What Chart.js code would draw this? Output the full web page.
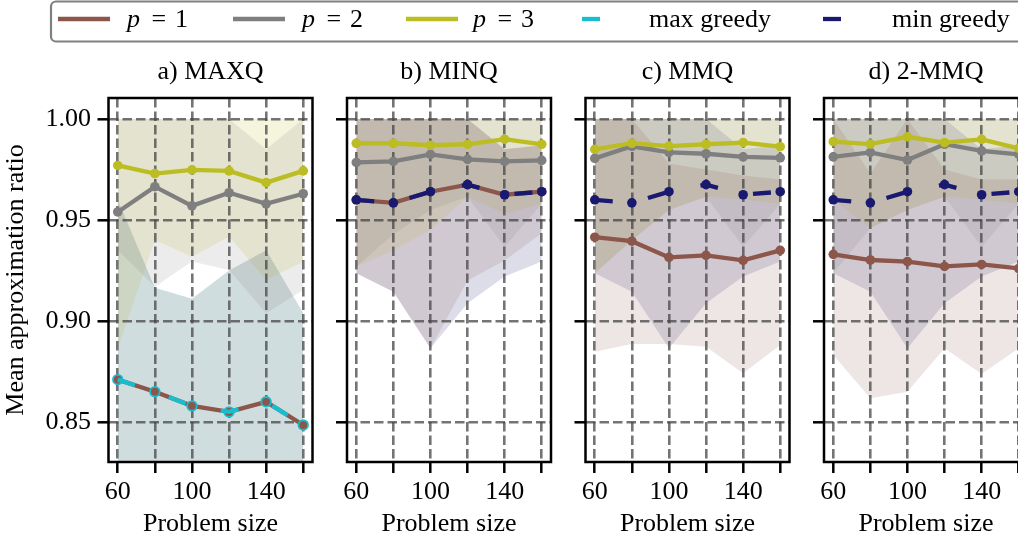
<!DOCTYPE html>
<html>
<head>
<meta charset="utf-8">
<script src="https://cdn.jsdelivr.net/npm/chart.js@4.4.1/dist/chart.umd.min.js"></script>
<style>
  html, body { margin: 0; padding: 0; background: #fff; overflow: hidden; }
  #wrap { position: relative; width: 1018px; height: 543px; overflow: hidden; }
  #wrap canvas { position: absolute; left: 0; top: 0; }
</style>
</head>
<body>
<div id="wrap">
  <canvas id="panel0" width="1040" height="543"></canvas>
  <canvas id="panel1" width="1040" height="543"></canvas>
  <canvas id="panel2" width="1040" height="543"></canvas>
  <canvas id="panel3" width="1040" height="543"></canvas>
</div>
<script>
// problem sizes on the x axis
const sizes = [60, 80, 100, 120, 140, 160];
const sizeLabels = [60, 100, 140];
const yTicks = [0.85, 0.90, 0.95, 1.00];
const panelTitles = ['a) MAXQ', 'b) MINQ', 'c) MMQ', 'd) 2-MMQ'];

// a) MAXQ : mean ratio and min/max band per depth p
const maxqP1 = [0.871, 0.865, 0.858, 0.855, 0.860, 0.8485];
const maxqP1Hi = [0.960, 0.9165, 0.911, 0.925, 0.935, 0.904];
const maxqP1Lo = [0.79, 0.80, 0.79, 0.80, 0.79, 0.80];
const maxqP2 = [0.954, 0.9665, 0.957, 0.9635, 0.958, 0.963];
const maxqP2Hi = [1.0, 1.0, 1.0, 1.0, 0.985, 1.0];
const maxqP2Lo = [0.935, 0.917, 0.9294, 0.9252, 0.9038, 0.9153];
const maxqP3 = [0.977, 0.973, 0.9748, 0.9743, 0.9685, 0.9743];
const maxqP3Hi = [1.0, 1.0, 1.0, 1.0, 1.0, 1.0];
const maxqP3Lo = [0.8865, 0.940, 0.9318, 0.9417, 0.9203, 0.9294];
const maxGreedy = [0.871, 0.865, 0.858, 0.855, 0.860, 0.8485];
const maxGreedyHi = [0.960, 0.9165, 0.911, 0.925, 0.935, 0.904];
const maxGreedyLo = [0.79, 0.80, 0.79, 0.80, 0.79, 0.80];

// b) MINQ
const minqP1 = [0.960, 0.9585, 0.964, 0.9675, 0.9625, 0.964];
const minqP1Hi = [1.0, 1.0, 1.0, 1.0, 0.985, 0.987];
const minqP1Lo = [0.9236, 0.9145, 0.8865, 0.920, 0.930, 0.9434];
const minqP2 = [0.9785, 0.979, 0.9825, 0.980, 0.979, 0.9795];
const minqP2Hi = [1.0, 1.0, 1.0, 1.0, 1.0, 1.0];
const minqP2Lo = [0.927, 0.943, 0.955, 0.9615, 0.9368, 0.958];
const minqP3 = [0.988, 0.988, 0.987, 0.9875, 0.990, 0.9875];
const minqP3Hi = [1.0, 1.0, 1.0, 1.0, 1.0, 1.0];
const minqP3Lo = [0.927, 0.935, 0.945, 0.9615, 0.953, 0.958];

// greedy minimiser, shared by b), c) and d)
const minGreedy = [0.960, 0.9585, 0.964, 0.9675, 0.9625, 0.964];
const minGreedyHi = [1.0, 1.0, 1.0, 1.0, 0.985, 0.987];
const minGreedyLo = [0.9236, 0.9145, 0.8865, 0.9088, 0.922, 0.9294];

// c) MMQ
const mmqP1 = [0.9415, 0.9395, 0.9315, 0.9325, 0.930, 0.935];
const mmqP1Hi = [1.0, 1.0, 0.978, 0.975, 0.972, 0.970];
const mmqP1Lo = [0.8848, 0.8886, 0.8886, 0.8873, 0.8741, 0.8881];
const mmqP2 = [0.9805, 0.9865, 0.9835, 0.9828, 0.9813, 0.9808];
const mmqP2Hi = [1.0, 1.0, 1.0, 1.0, 1.0, 1.0];
const mmqP2Lo = [0.9236, 0.940, 0.955, 0.9615, 0.9368, 0.958];
const mmqP3 = [0.985, 0.988, 0.9866, 0.9875, 0.9883, 0.9863];
const mmqP3Hi = [1.0, 1.0, 1.0, 1.0, 1.0, 1.0];
const mmqP3Lo = [0.9236, 0.940, 0.955, 0.9615, 0.960, 0.958];

// d) 2-MMQ
const mmq2P1 = [0.933, 0.9302, 0.9294, 0.927, 0.928, 0.926];
const mmq2P1Hi = [1.0, 0.973, 1.0, 0.975, 0.970, 0.970];
const mmq2P1Lo = [0.8832, 0.8617, 0.865, 0.8865, 0.8738, 0.8865];
const mmq2P2 = [0.9813, 0.9835, 0.9797, 0.9875, 0.9842, 0.9825];
const mmq2P2Hi = [1.0, 1.0, 1.0, 1.0, 1.0, 1.0];
const mmq2P2Lo = [0.9236, 0.946, 0.955, 0.9615, 0.9368, 0.958];
const mmq2P3 = [0.9888, 0.9876, 0.9912, 0.9883, 0.9899, 0.9855];
const mmq2P3Hi = [1.0, 1.0, 1.0, 1.0, 1.0, 1.0];
const mmq2P3Lo = [0.960, 0.946, 0.955, 0.9615, 0.960, 0.958];

const BROWN = '#8c564b', GREY = '#7f7f7f', OLIVE = '#bcbd22', CYAN = '#17becf', NAVY = '#191970';
const GRID = 'rgba(70,70,70,0.75)';
const FAMILY = "'Liberation Serif', 'Times New Roman', serif";
const FONT = { family: FAMILY, size: 26 };

// geometry of the four axes boxes
const FRAME_LEFT = [108.5, 347, 585.5, 824];
const FRAME_W = 204;
const FRAME_TOP = 98, FRAME_BOTTOM = 462;
const CANVAS_W = 1040, CANVAS_H = 543;

const panels = [
  [
    { mean: maxqP1, hi: maxqP1Hi, lo: maxqP1Lo, color: BROWN, order: 4 },
    { mean: maxqP2, hi: maxqP2Hi, lo: maxqP2Lo, color: GREY, order: 3 },
    { mean: maxqP3, hi: maxqP3Hi, lo: maxqP3Lo, color: OLIVE, order: 2 },
    { mean: maxGreedy, hi: maxGreedyHi, lo: maxGreedyLo, color: CYAN, order: 1, greedy: true, ring: true }
  ],
  [
    { mean: minqP1, hi: minqP1Hi, lo: minqP1Lo, color: BROWN, order: 4 },
    { mean: minqP2, hi: minqP2Hi, lo: minqP2Lo, color: GREY, order: 3 },
    { mean: minqP3, hi: minqP3Hi, lo: minqP3Lo, color: OLIVE, order: 2 },
    { mean: minGreedy, hi: minGreedyHi, lo: minGreedyLo, color: NAVY, order: 1, greedy: true }
  ],
  [
    { mean: mmqP1, hi: mmqP1Hi, lo: mmqP1Lo, color: BROWN, order: 4 },
    { mean: mmqP2, hi: mmqP2Hi, lo: mmqP2Lo, color: GREY, order: 3 },
    { mean: mmqP3, hi: mmqP3Hi, lo: mmqP3Lo, color: OLIVE, order: 2 },
    { mean: minGreedy, hi: minGreedyHi, lo: minGreedyLo, color: NAVY, order: 1, greedy: true }
  ],
  [
    { mean: mmq2P1, hi: mmq2P1Hi, lo: mmq2P1Lo, color: BROWN, order: 4 },
    { mean: mmq2P2, hi: mmq2P2Hi, lo: mmq2P2Lo, color: GREY, order: 3 },
    { mean: mmq2P3, hi: mmq2P3Hi, lo: mmq2P3Lo, color: OLIVE, order: 2 },
    { mean: minGreedy, hi: minGreedyHi, lo: minGreedyLo, color: NAVY, order: 1, greedy: true }
  ]
];

function points(arr) {
  return sizes.map((x, i) => ({ x: x, y: arr[i] }));
}

function alpha(hex, a) {
  const n = parseInt(hex.slice(1), 16);
  return `rgba(${n >> 16},${(n >> 8) & 255},${n & 255},${a})`;
}

function buildDatasets(series) {
  const sets = [];
  // shaded min/max bands, upper edge filled down to the next dataset
  series.forEach(s => {
    sets.push({ data: points(s.hi), fill: '+1', backgroundColor: alpha(s.color, 0.15),
      borderWidth: 0, borderColor: 'rgba(0,0,0,0)', pointRadius: 0, order: 10 });
    sets.push({ data: points(s.lo), fill: false,
      borderWidth: 0, borderColor: 'rgba(0,0,0,0)', pointRadius: 0, order: 10 });
  });
  // mean lines with markers
  series.forEach(s => {
    sets.push({
      data: points(s.mean), fill: false, order: s.order,
      borderColor: s.color, borderWidth: 4.3,
      borderDash: s.greedy ? [18, 36] : [],
      pointRadius: 4.8,
      pointBackgroundColor: s.ring ? 'rgba(0,0,0,0)' : s.color,
      pointBorderColor: s.color,
      pointBorderWidth: s.ring ? 1.8 : 0
    });
  });
  return sets;
}

// frame around the axes box and the panel title
const framePlugin = {
  id: 'frame',
  afterDatasetsDraw(chart, args, opts) {
    const a = chart.chartArea, ctx = chart.ctx;
    ctx.save();
    ctx.strokeStyle = '#000';
    ctx.lineWidth = 2.5;
    ctx.strokeRect(a.left, a.top, a.right - a.left, a.bottom - a.top);
    ctx.fillStyle = '#000';
    ctx.font = `26px ${FAMILY}`;
    ctx.textAlign = 'center';
    ctx.textBaseline = 'middle';
    ctx.fillText(opts.title, (a.left + a.right) / 2, 72.5);
    ctx.restore();
  }
};

// figure legend along the top
const legendPlugin = {
  id: 'figLegend',
  afterDraw(chart, args, opts) {
    if (!opts.show) return;
    const ctx = chart.ctx;
    ctx.save();
    ctx.beginPath();
    ctx.roundRect(51, 1.5, 1000, 40, 5);
    ctx.fillStyle = '#fff';
    ctx.fill();
    ctx.lineWidth = 2.2;
    ctx.strokeStyle = '#808080';
    ctx.stroke();

    const items = [
      { color: BROWN, dash: [], x: 58, tx: 127, p: '1' },
      { color: GREY, dash: [], x: 233, tx: 302, p: '2' },
      { color: OLIVE, dash: [], x: 406, tx: 473, p: '3' },
      { color: CYAN, dash: [18, 36], x: 582, tx: 649, text: 'max greedy' },
      { color: NAVY, dash: [18, 36], x: 823, tx: 892, text: 'min greedy' }
    ];
    items.forEach(it => {
      ctx.beginPath();
      ctx.setLineDash(it.dash);
      ctx.lineWidth = 4.3;
      ctx.strokeStyle = it.color;
      ctx.moveTo(it.x, 19);
      ctx.lineTo(it.x + 52, 19);
      ctx.stroke();
      ctx.setLineDash([]);
      ctx.fillStyle = '#000';
      ctx.textBaseline = 'alphabetic';
      ctx.textAlign = 'left';
      if (it.p) {
        ctx.font = `italic 26px ${FAMILY}`;
        ctx.fillText('p', it.tx, 27);
        ctx.font = `26px ${FAMILY}`;
        ctx.fillText('=', it.tx + 24.5, 27);
        ctx.fillText(it.p, it.tx + 48, 27);
      } else {
        ctx.font = `26px ${FAMILY}`;
        ctx.fillText(it.text, it.tx, 27);
      }
    });
    ctx.restore();
  }
};

const gridOpts = {
  color: GRID, lineWidth: 2.6,
  tickColor: '#000', tickWidth: 2.5, tickLength: 11, tickBorderDash: [30, 0]
};

panels.forEach((series, idx) => {
  const left = FRAME_LEFT[idx];
  const right = left + FRAME_W;
  new Chart(document.getElementById('panel' + idx), {
    type: 'line',
    data: { datasets: buildDatasets(series) },
    plugins: [framePlugin, legendPlugin],
    options: {
      responsive: false,
      animation: false,
      devicePixelRatio: 1,
      events: [],
      layout: { padding: { left: 1, right: CANVAS_W - right, top: FRAME_TOP, bottom: 0 } },
      elements: { line: { tension: 0 } },
      plugins: {
        legend: { display: false },
        tooltip: { enabled: false },
        filler: { drawTime: 'beforeDraw' },
        frame: { title: panelTitles[idx] },
        figLegend: { show: idx === 0 }
      },
      scales: {
        x: {
          type: 'linear', min: 55, max: 165,
          afterBuildTicks: s => { s.ticks = sizes.map(v => ({ value: v })); },
          afterFit: s => { s.height = CANVAS_H - FRAME_BOTTOM; },
          grid: gridOpts,
          border: { display: false, dash: [9.5, 4] },
          ticks: {
            color: '#000', font: FONT, padding: 4, maxRotation: 0, autoSkip: false,
            callback: v => sizeLabels.includes(v) ? String(v) : ''
          },
          title: { display: true, text: 'Problem size', color: '#000', font: FONT, padding: { top: 0, bottom: 3 } }
        },
        y: {
          type: 'linear', min: 0.8302, max: 1.0104,
          afterBuildTicks: s => { s.ticks = yTicks.map(v => ({ value: v })); },
          afterFit: s => { s.width = left - 1; },
          grid: gridOpts,
          border: { display: false, dash: [9.5, 4] },
          ticks: {
            color: '#000', font: FONT, padding: 6.5,
            callback: v => idx === 0 ? v.toFixed(2) : ''
          },
          title: { display: idx === 0, text: 'Mean approximation ratio', color: '#000', font: FONT, padding: 0 }
        }
      }
    }
  });
});
</script>
</body>
</html>
